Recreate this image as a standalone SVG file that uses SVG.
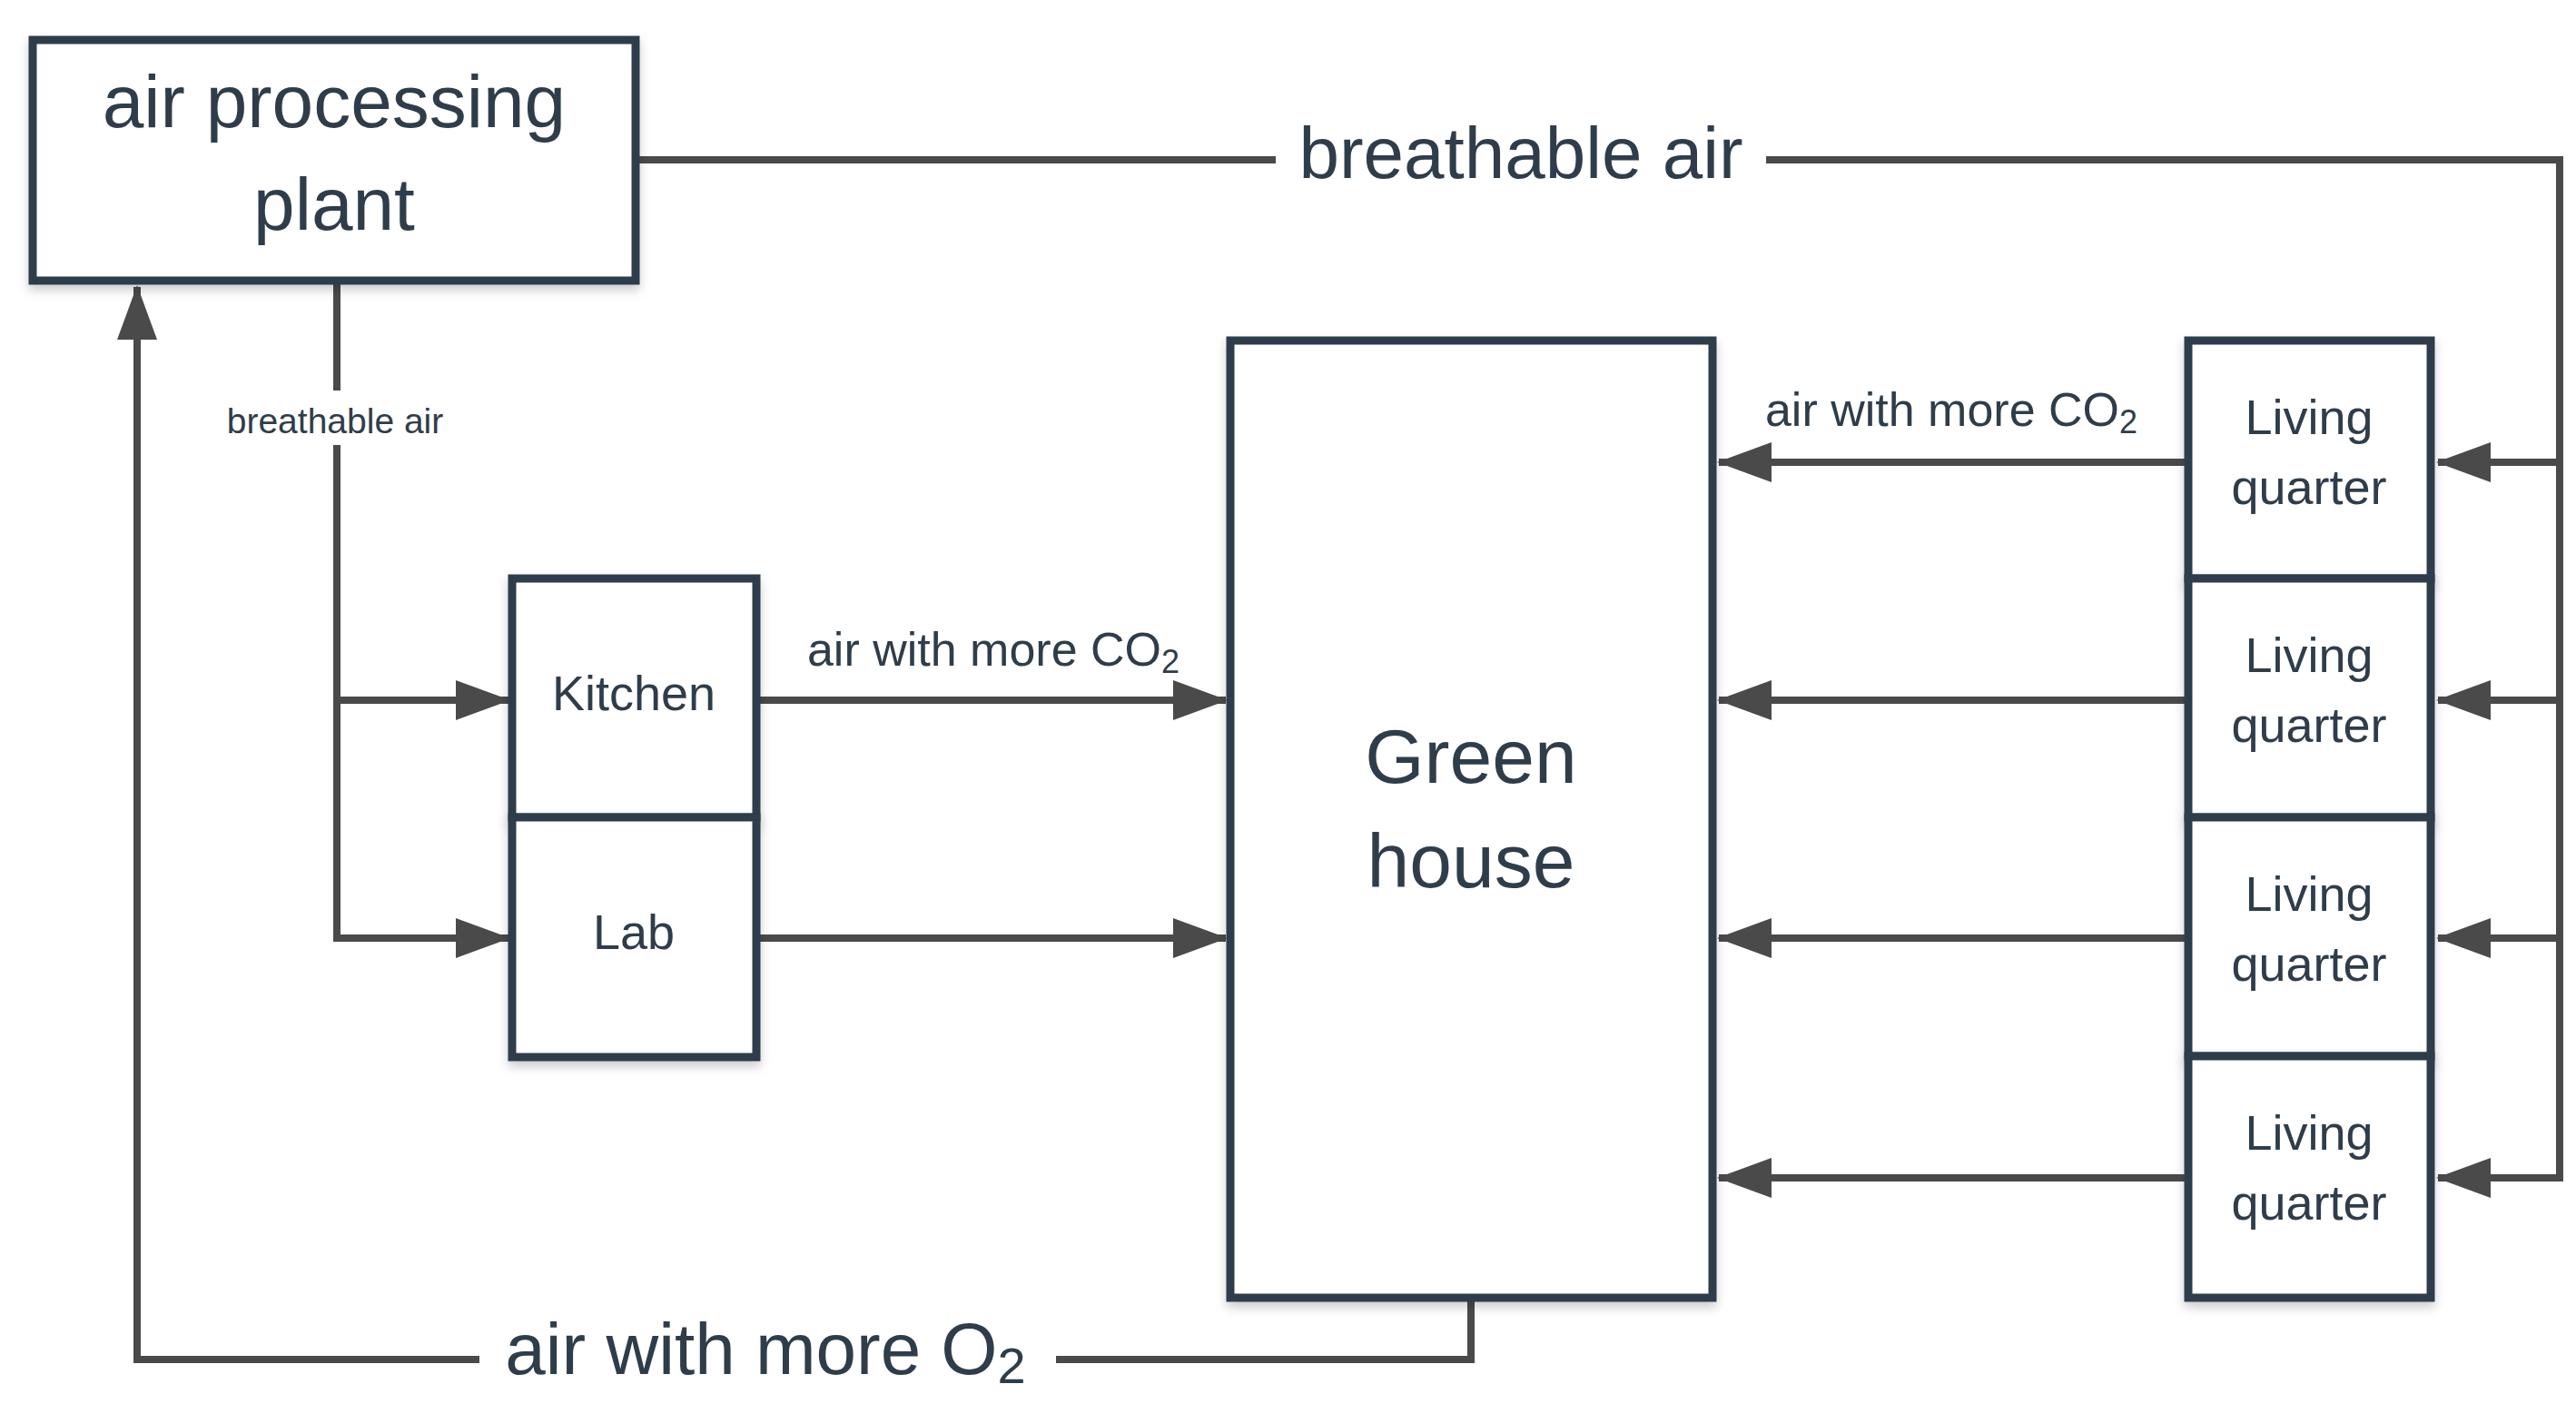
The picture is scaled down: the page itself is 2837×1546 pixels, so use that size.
<svg xmlns="http://www.w3.org/2000/svg" width="2837" height="1546" viewBox="0 0 2837 1546">
<style>
.box{fill:#fff;stroke:#2f3d4b;stroke-width:9;filter:url(#sh)}
.ln{fill:none;stroke:#4a4a4a;stroke-width:8}
.t{font-family:"Liberation Sans",Arial,sans-serif;fill:#2f3d4b;text-anchor:middle}
.lbl{fill:#fff}
</style>
<defs>
<filter id="sh" x="-10%" y="-10%" width="130%" height="130%"><feDropShadow dx="0" dy="6" stdDeviation="6" flood-color="#000" flood-opacity="0.2"/></filter>
<marker id="ah" markerUnits="userSpaceOnUse" markerWidth="60" markerHeight="44" viewBox="0 0 60 44" refX="58" refY="22" orient="auto"><path d="M0,0 L60,22 L0,44 z" fill="#4a4a4a"/></marker>
</defs>
<g id="connectors">
<path class="ln" d="M700,176 H2819 V1297"/>
<path class="ln" d="M2819,509 H2685" marker-end="url(#ah)"/>
<path class="ln" d="M2819,771 H2685" marker-end="url(#ah)"/>
<path class="ln" d="M2819,1033 H2685" marker-end="url(#ah)"/>
<path class="ln" d="M2823,1297 H2685" marker-end="url(#ah)"/>
<path class="ln" d="M2410,509 H1893" marker-end="url(#ah)"/>
<path class="ln" d="M2410,771 H1893" marker-end="url(#ah)"/>
<path class="ln" d="M2410,1033 H1893" marker-end="url(#ah)"/>
<path class="ln" d="M2410,1297 H1893" marker-end="url(#ah)"/>
<path class="ln" d="M371,309 V1033"/>
<path class="ln" d="M371,771 H560" marker-end="url(#ah)"/>
<path class="ln" d="M367,1033 H560" marker-end="url(#ah)"/>
<path class="ln" d="M833,771 H1350" marker-end="url(#ah)"/>
<path class="ln" d="M833,1033 H1350" marker-end="url(#ah)"/>
<path class="ln" d="M1620,1429 V1497 H151 V316" marker-end="url(#ah)"/>
<rect class="lbl" x="1405" y="120" width="540" height="100"/>
<text class="t" x="1675" y="196" font-size="80">breathable air</text>
<rect class="lbl" x="300" y="430" width="230" height="60"/>
<text class="t" x="369" y="477" font-size="39">breathable air</text>
<text class="t" x="1094" y="733" font-size="52">air with more CO<tspan font-size="36" dy="8">2</tspan></text>
<text class="t" x="2149" y="469" font-size="52">air with more CO<tspan font-size="36" dy="8">2</tspan></text>
<rect class="lbl" x="528" y="1450" width="635" height="96"/>
<text class="t" x="843" y="1513" font-size="80">air with more O<tspan font-size="56" dy="10">2</tspan></text>
</g>
<g id="plant"><rect class="box" x="36" y="44" width="664" height="265"/>
<text class="t" x="368" y="140" font-size="82">air processing</text><text class="t" x="368" y="253" font-size="82">plant</text></g>
<g id="greenhouse"><rect class="box" x="1355" y="375" width="531" height="1054"/>
<text class="t" x="1620" y="862" font-size="84">Green</text><text class="t" x="1620" y="977" font-size="84">house</text></g>
<g id="kitchen"><rect class="box" x="564" y="637" width="269" height="263"/>
<text class="t" x="698" y="782" font-size="54">Kitchen</text></g>
<g id="lab"><rect class="box" x="564" y="900" width="269" height="264"/>
<text class="t" x="698" y="1045" font-size="54">Lab</text></g>
<g id="lq1"><rect class="box" x="2410" y="375" width="267" height="262"/>
<text class="t" x="2543" y="478" font-size="54">Living</text><text class="t" x="2543" y="555" font-size="54">quarter</text></g>
<g id="lq2"><rect class="box" x="2410" y="637" width="267" height="263"/>
<text class="t" x="2543" y="740" font-size="54">Living</text><text class="t" x="2543" y="817" font-size="54">quarter</text></g>
<g id="lq3"><rect class="box" x="2410" y="900" width="267" height="263"/>
<text class="t" x="2543" y="1003" font-size="54">Living</text><text class="t" x="2543" y="1080" font-size="54">quarter</text></g>
<g id="lq4"><rect class="box" x="2410" y="1163" width="267" height="266"/>
<text class="t" x="2543" y="1266" font-size="54">Living</text><text class="t" x="2543" y="1343" font-size="54">quarter</text></g>
</svg>
